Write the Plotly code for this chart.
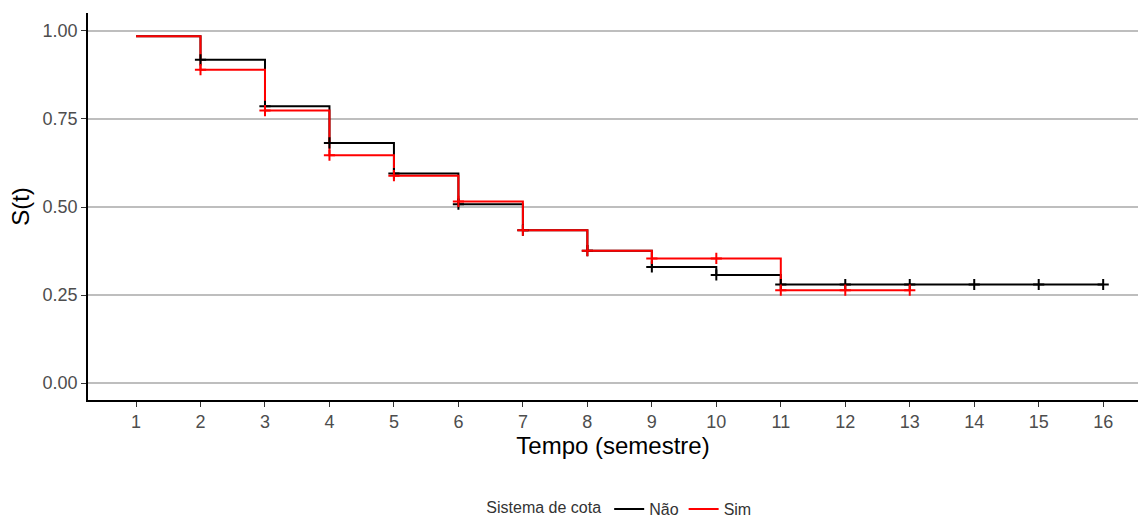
import plotly.graph_objects as go

# Data
tempo_nao = [1, 2, 3, 4, 5, 6, 7, 8, 9, 10, 11, 12, 13, 14, 15, 16]
surv_nao = [0.985, 0.918, 0.786, 0.682, 0.595, 0.508, 0.434, 0.376, 0.330, 0.307,
            0.280, 0.280, 0.280, 0.280, 0.280, 0.280]
tempo_sim = [1, 2, 3, 4, 5, 6, 7, 8, 9, 10, 11, 12, 13]
surv_sim = [0.985, 0.890, 0.774, 0.647, 0.589, 0.516, 0.434, 0.376, 0.354, 0.354,
            0.264, 0.264, 0.264]
censor_nao = [2, 3, 4, 5, 6, 7, 8, 9, 10, 11, 12, 13, 14, 15, 16]
censor_sim = [2, 3, 4, 5, 6, 7, 8, 9, 10, 11, 12, 13]
x_ticks = list(range(1, 17))
y_ticks = [0.0, 0.25, 0.5, 0.75, 1.0]
y_tick_labels = ["0.00", "0.25", "0.50", "0.75", "1.00"]

def surv_at(times, vals, t):
    v = vals[0]
    for ti, vi in zip(times, vals):
        if ti <= t:
            v = vi
    return v

fig = go.Figure()
fig.add_trace(go.Scatter(x=tempo_nao, y=surv_nao, mode="lines", line=dict(shape="hv", color="black", width=2),
                         name="Não"))
fig.add_trace(go.Scatter(x=tempo_sim, y=surv_sim, mode="lines", line=dict(shape="hv", color="red", width=2),
                         name="Sim"))
fig.add_trace(go.Scatter(x=censor_nao, y=[surv_at(tempo_nao, surv_nao, t) for t in censor_nao], mode="markers",
                         marker=dict(symbol="cross-thin", size=8, line=dict(color="black", width=2)),
                         showlegend=False))
fig.add_trace(go.Scatter(x=censor_sim, y=[surv_at(tempo_sim, surv_sim, t) for t in censor_sim], mode="markers",
                         marker=dict(symbol="cross-thin", size=8, line=dict(color="red", width=2)),
                         showlegend=False))

fig.update_layout(
    width=1140, height=517,
    margin=dict(l=88, r=2, t=13, b=117, autoexpand=False),
    plot_bgcolor="white", paper_bgcolor="white",
    font=dict(family="Liberation Sans, Arial, sans-serif", color="black"),
    xaxis=dict(range=[0.255, 16.54], tickvals=x_ticks, ticktext=[str(t) for t in x_ticks],
               showgrid=False, zeroline=False, showline=True, linecolor="black", linewidth=1.5,
               ticks="outside", ticklen=5, tickcolor="#333333", tickwidth=1.2,
               tickfont=dict(size=18, color="#4d4d4d"), automargin=False,
               title=dict(text="Tempo (semestre)", font=dict(size=24, color="black"), standoff=6)),
    yaxis=dict(range=[-0.048, 1.051], tickvals=y_ticks, ticktext=y_tick_labels,
               showgrid=True, gridcolor="#bebebe", gridwidth=1.5, zeroline=False,
               showline=True, linecolor="black", linewidth=1.5,
               ticks="outside", ticklen=5, tickcolor="#333333", tickwidth=1.2,
               tickfont=dict(size=18, color="#4d4d4d"), automargin=False,
               title=dict(text="S(t)", font=dict(size=24, color="black"), standoff=6)),
    legend=dict(orientation="h", x=0.507, xanchor="center", y=-0.2817, yanchor="middle",
                title=dict(text="Sistema de cota", side="left", font=dict(size=16, color="#333333")),
                font=dict(size=16, color="#333333"), itemwidth=30, tracegroupgap=0),
    showlegend=True,
)

fig.write_html("out.html", config={"displayModeBar": False},
               post_script="document.body.style.margin='0px';")
